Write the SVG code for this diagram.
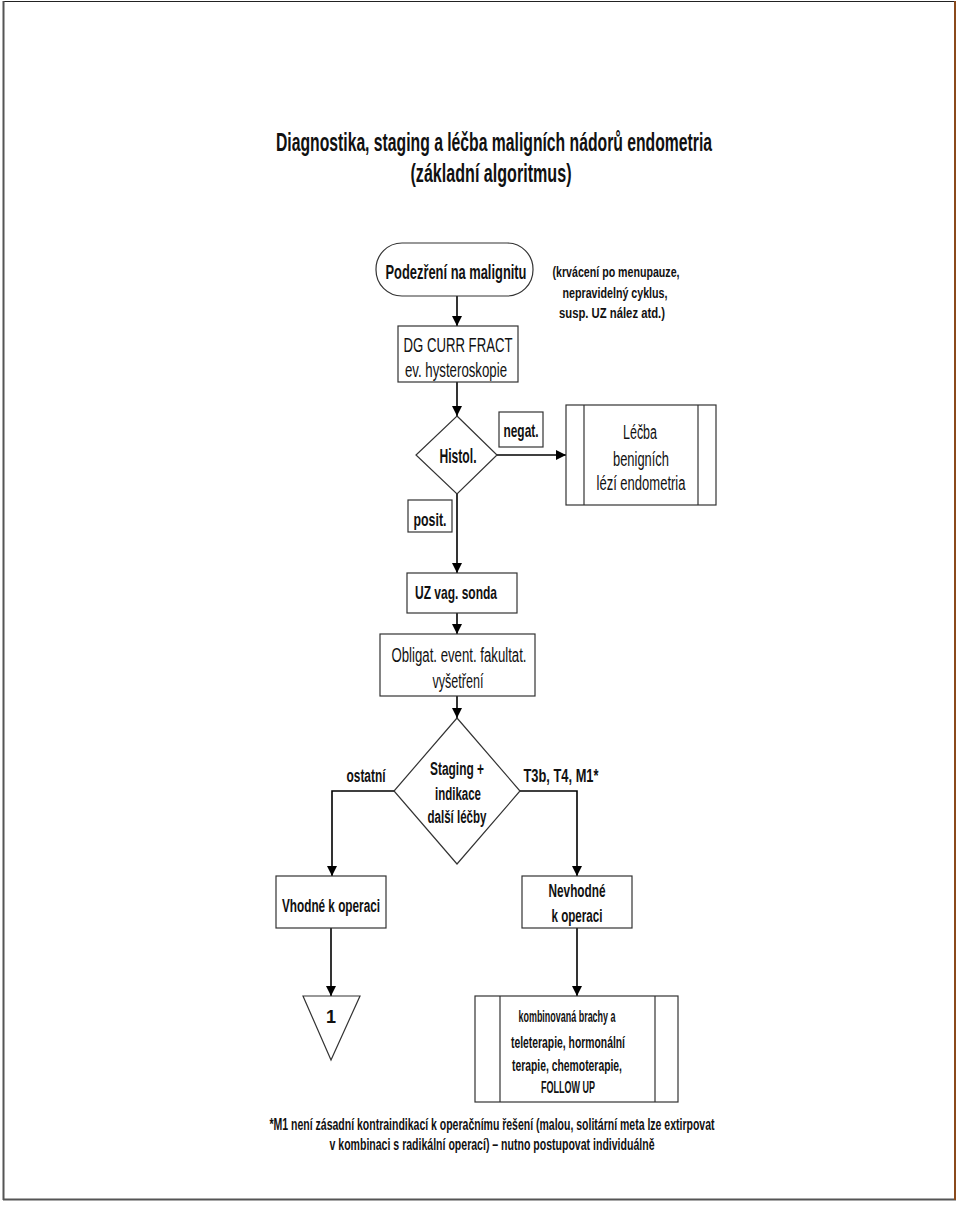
<svg xmlns="http://www.w3.org/2000/svg" width="960" height="1208" viewBox="0 0 960 1208">
<defs>
<style>
text{font-family:"Liberation Sans Narrow","Liberation Sans",Arial,sans-serif;fill:#111;text-anchor:middle}
.b{font-weight:bold}
.box{fill:#fff;stroke:#333;stroke-width:1.2}
.con{fill:none;stroke:#000;stroke-width:1.6}
</style>
<marker id="ah" viewBox="0 0 10 10" refX="10" refY="5" markerWidth="10" markerHeight="10" markerUnits="userSpaceOnUse" orient="auto">
<path d="M0,0 L10,5 L0,10 z" fill="#000"/>
</marker>
</defs>
<rect x="0" y="0" width="960" height="1208" fill="#fff"/>
<g id="frame">
<line x1="3" y1="1.5" x2="956" y2="1.5" stroke="#222" stroke-width="1"/>
<line x1="3.5" y1="1" x2="3.5" y2="1200" stroke="#555" stroke-width="2"/>
<line x1="3" y1="1199.5" x2="956" y2="1199.5" stroke="#555" stroke-width="2"/>
<line x1="955" y1="1" x2="955" y2="1200" stroke="#8a4a1c" stroke-width="2"/>
</g>
<g id="title">
<text class="b" x="494" y="151" font-size="25" textLength="436" lengthAdjust="spacingAndGlyphs">Diagnostika, staging a léčba maligních nádorů endometria</text>
<text class="b" x="491" y="182" font-size="25" textLength="161" lengthAdjust="spacingAndGlyphs">(základní algoritmus)</text>
</g>
<g id="connectors">
<line class="con" x1="457" y1="296" x2="457" y2="326" marker-end="url(#ah)"/>
<line class="con" x1="457" y1="382" x2="457" y2="416" marker-end="url(#ah)"/>
<line class="con" x1="497" y1="455" x2="566" y2="455" marker-end="url(#ah)"/>
<line class="con" x1="457" y1="494" x2="457" y2="573" marker-end="url(#ah)"/>
<line class="con" x1="457" y1="613" x2="457" y2="634" marker-end="url(#ah)"/>
<line class="con" x1="457" y1="696" x2="457" y2="718" marker-end="url(#ah)"/>
<polyline class="con" points="394,791 332,791 332,876" marker-end="url(#ah)"/>
<polyline class="con" points="520,791 577,791 577,876" marker-end="url(#ah)"/>
<line class="con" x1="331" y1="928" x2="331" y2="996" marker-end="url(#ah)"/>
<line class="con" x1="577" y1="928" x2="577" y2="996" marker-end="url(#ah)"/>
</g>
<g id="podezreni">
<rect class="box" x="376" y="243" width="157" height="53" rx="26" ry="26"/>
<text class="b" x="456" y="279" font-size="21" textLength="141" lengthAdjust="spacingAndGlyphs">Podezření na malignitu</text>
</g>
<g id="poznamka">
<text class="b" x="616" y="277" font-size="15" textLength="127" lengthAdjust="spacingAndGlyphs">(krvácení po menupauze,</text>
<text class="b" x="615" y="298" font-size="15" textLength="105" lengthAdjust="spacingAndGlyphs">nepravidelný cyklus,</text>
<text class="b" x="612" y="318" font-size="15" textLength="106" lengthAdjust="spacingAndGlyphs">susp. UZ nález atd.)</text>
</g>
<g id="dg">
<rect class="box" x="398" y="326" width="120" height="56"/>
<text x="458" y="352" font-size="21" textLength="109" lengthAdjust="spacingAndGlyphs">DG CURR FRACT</text>
<text x="456" y="377" font-size="21" textLength="102" lengthAdjust="spacingAndGlyphs">ev. hysteroskopie</text>
</g>
<g id="histol">
<polygon class="box" points="457,416 497,455 457,494 416,455"/>
<text class="b" x="458" y="463" font-size="20" textLength="37" lengthAdjust="spacingAndGlyphs">Histol.</text>
</g>
<g id="negat">
<rect class="box" x="499" y="412" width="44" height="35"/>
<text class="b" x="521" y="437" font-size="19" textLength="35" lengthAdjust="spacingAndGlyphs">negat.</text>
</g>
<g id="posit">
<rect class="box" x="408" y="500" width="44" height="32"/>
<text class="b" x="430" y="526" font-size="19" textLength="33" lengthAdjust="spacingAndGlyphs">posit.</text>
</g>
<g id="lecba">
<rect class="box" x="566" y="405" width="150" height="100"/>
<line x1="584" y1="405" x2="584" y2="505" stroke="#333" stroke-width="1.2"/>
<line x1="698" y1="405" x2="698" y2="505" stroke="#333" stroke-width="1.2"/>
<text x="640" y="439" font-size="20" textLength="34" lengthAdjust="spacingAndGlyphs">Léčba</text>
<text x="641" y="466" font-size="20" textLength="56" lengthAdjust="spacingAndGlyphs">benigních</text>
<text x="641" y="490" font-size="20" textLength="89" lengthAdjust="spacingAndGlyphs">lézí endometria</text>
</g>
<g id="uz">
<rect class="box" x="407" y="573" width="110" height="40"/>
<text class="b" x="456" y="599" font-size="19" textLength="82" lengthAdjust="spacingAndGlyphs">UZ vag. sonda</text>
</g>
<g id="obligat">
<rect class="box" x="380" y="634" width="155" height="62"/>
<text x="459" y="662" font-size="20" textLength="135" lengthAdjust="spacingAndGlyphs">Obligat. event. fakultat.</text>
<text x="458" y="688" font-size="20" textLength="51" lengthAdjust="spacingAndGlyphs">vyšetření</text>
</g>
<g id="staging">
<polygon class="box" points="457,718 520,791 457,864 394,791"/>
<text class="b" x="457" y="775" font-size="18" textLength="54" lengthAdjust="spacingAndGlyphs">Staging +</text>
<text class="b" x="458" y="800" font-size="18" textLength="46" lengthAdjust="spacingAndGlyphs">indikace</text>
<text class="b" x="457" y="823" font-size="18" textLength="59" lengthAdjust="spacingAndGlyphs">další léčby</text>
</g>
<g id="labels">
<text class="b" x="366" y="782" font-size="18" textLength="39" lengthAdjust="spacingAndGlyphs">ostatní</text>
<text class="b" x="561" y="782" font-size="18" textLength="75" lengthAdjust="spacingAndGlyphs">T3b, T4, M1*</text>
</g>
<g id="vhodne">
<rect class="box" x="276" y="876" width="110" height="52"/>
<text class="b" x="331" y="912" font-size="18" textLength="98" lengthAdjust="spacingAndGlyphs">Vhodné k operaci</text>
</g>
<g id="nevhodne">
<rect class="box" x="522" y="876" width="110" height="52"/>
<text class="b" x="577" y="897" font-size="18" textLength="57" lengthAdjust="spacingAndGlyphs">Nevhodné</text>
<text class="b" x="577" y="922" font-size="18" textLength="51" lengthAdjust="spacingAndGlyphs">k operaci</text>
</g>
<g id="konektor1">
<polygon class="box" points="303,996 360,996 331,1060"/>
<text class="b" x="331" y="1023" font-size="18">1</text>
</g>
<g id="kombinovana">
<rect class="box" x="475" y="996" width="203" height="106"/>
<line x1="500" y1="996" x2="500" y2="1102" stroke="#333" stroke-width="1.2"/>
<line x1="655" y1="996" x2="655" y2="1102" stroke="#333" stroke-width="1.2"/>
<text class="b" x="567" y="1022" font-size="16" textLength="97" lengthAdjust="spacingAndGlyphs">kombinovaná brachy a</text>
<text class="b" x="568" y="1048" font-size="16" textLength="114" lengthAdjust="spacingAndGlyphs">teleterapie, hormonální</text>
<text class="b" x="567" y="1071" font-size="16" textLength="110" lengthAdjust="spacingAndGlyphs">terapie, chemoterapie,</text>
<text class="b" x="568" y="1093" font-size="16" textLength="54" lengthAdjust="spacingAndGlyphs">FOLLOW UP</text>
</g>
<g id="poznamka-m1">
<text class="b" x="492" y="1130" font-size="16" textLength="445" lengthAdjust="spacingAndGlyphs">*M1 není zásadní kontraindikací k operačnímu řešení (malou, solitární meta lze extirpovat</text>
<text class="b" x="492" y="1150" font-size="16" textLength="325" lengthAdjust="spacingAndGlyphs">v kombinaci s radikální operací) – nutno postupovat individuálně</text>
</g>
</svg>
